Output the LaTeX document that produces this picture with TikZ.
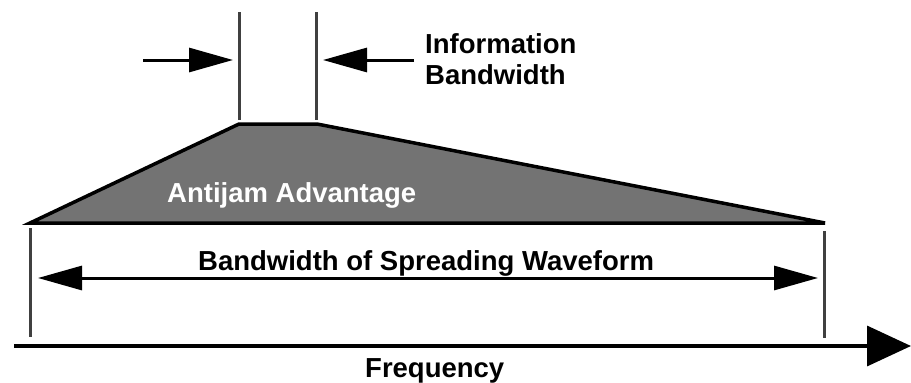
\documentclass[tikz,border=0pt]{standalone}
\usepackage{fontspec}
\setmainfont{Liberation Sans}
\usetikzlibrary{arrows.meta}
\begin{document}
\begin{tikzpicture}[x=1pt,y=-1pt,
  lbl/.style={inner sep=0pt,font=\fontsize{27.5}{30}\selectfont\bfseries},
  guide/.style={draw=black!75,line width=3pt},
  dimarrow/.style={line width=3pt,-{Triangle[length=44pt,width=24pt]}},
  dimarrows/.style={line width=3pt,{Triangle[length=44pt,width=24pt]}-{Triangle[length=44pt,width=24pt]}}
]
\useasboundingbox (0,0) rectangle (911,383);
% spectrum trapezoid
\coordinate (bl) at (30,223);
\coordinate (tl) at (239,124);
\coordinate (tr) at (317,124);
\coordinate (br) at (825,223);
\filldraw[fill=black!55,draw=black,line width=3.5pt,line join=miter] (bl) -- (tl) -- (tr) -- (br) -- cycle;
\node[lbl,text=white,anchor=base west] (aj) at (167,202) {Antijam Advantage};
% information bandwidth guides
\coordinate (g1t) at (239,12); \coordinate (g1b) at (239,120);
\coordinate (g2t) at (316,12); \coordinate (g2b) at (316,120);
\draw[guide] (g1t) -- (g1b);
\draw[guide] (g2t) -- (g2b);
\coordinate (a1s) at (143,60); \coordinate (a1e) at (233,60);
\coordinate (a2s) at (414,60); \coordinate (a2e) at (323,60);
\draw[dimarrow] (a1s) -- (a1e);
\draw[dimarrow] (a2s) -- (a2e);
\node[lbl,anchor=base west] (info1) at (425,53) {Information};
\node[lbl,anchor=base west] (info2) at (425,84) {Bandwidth};
% spreading bandwidth guides
\coordinate (g3t) at (30,228); \coordinate (g3b) at (30,337);
\coordinate (g4t) at (824,231); \coordinate (g4b) at (824,338);
\draw[guide] (g3t) -- (g3b);
\draw[guide] (g4t) -- (g4b);
\coordinate (bws) at (38,278); \coordinate (bwe) at (818,278);
\draw[dimarrows] (bws) -- (bwe);
\node[lbl,anchor=base west] (bw) at (198,270) {Bandwidth of Spreading Waveform};
% frequency axis
\coordinate (fs) at (14,346); \coordinate (fe) at (911,346);
\draw[line width=3.5pt,-{Triangle[length=44pt,width=40pt]}] (fs) -- (fe);
\node[lbl,anchor=base west] (freq) at (365,377) {Frequency};
\end{tikzpicture}
\end{document}
